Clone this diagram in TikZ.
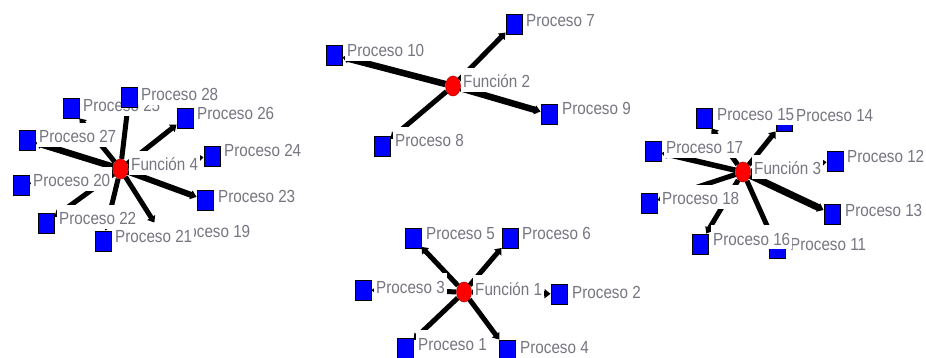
\documentclass[tikz,border=0pt]{standalone}
\usepackage{fontspec}
\newfontfamily\lblfont[FakeStretch=0.87]{Liberation Sans}
\usetikzlibrary{shapes.geometric,arrows.meta}
\definecolor{lblgray}{RGB}{118,118,130}
\pgfdeclarelayer{bg}
\pgfsetlayers{bg,main}
\begin{document}
\begin{tikzpicture}[x=1pt,y=-1pt,
  fn/.style={ellipse,fill=red,draw=red!70!black,line width=0.5pt,minimum width=15pt,minimum height=20pt,inner sep=0pt},
  pr/.style={rectangle,fill=blue,draw=black,line width=0.9pt,minimum width=16pt,minimum height=20pt,inner sep=0pt},
  lbl/.style={anchor=base west,fill=white,inner xsep=2pt,inner ysep=0pt,text height=20pt,text depth=4pt,font=\lblfont\fontsize{17.5}{18}\selectfont,text=lblgray},
  arc/.style={line width=#1,-{Triangle[length=6pt,width=9pt]}},
  arc/.default=5pt]
\useasboundingbox (0,0) rectangle (926,358);
% function vertices
\node[fn] (f1) at (464,292) {};
\node[fn] (f2) at (453,86) {};
\node[fn] (f3) at (743,172) {};
\node[fn] (f4) at (120.5,169) {};
\node[lbl] (lf1) at (473,295) {Función 1};
\node[lbl] (lf2) at (461,88) {Función 2};
\node[lbl] (lf3) at (752,175) {Función 3};
\node[lbl] (lf4) at (129,171) {Función 4};
% process vertices
\foreach \n/\x/\y/\lx/\ly in {
  1/405/348/418/350, 2/559/294/572/298, 3/363/290/376/293, 4/507/350/520/353,
  5/413/238/426/240, 6/510/238/522/240, 7/514/24/526/27, 8/382/146/395/147,
  9/549/114/562/115, 10/334/55/347/57, 11/777/248/790/250, 12/835/161/847/163,
  13/832/214/845/217, 14/784/121/796/122, 15/704/118/717/121, 16/700/244/713/245,
  17/653/151/666/154, 18/649/203/662/205, 19/161/233/173/237, 20/21/185/33/187,
  21/103/241/115/243, 22/46/223/59/225, 23/205/200/218/203, 24/212/156/224/157,
  25/71/108/83/112, 26/185/118/197/120, 27/27/140/39/143, 28/129/97/141/101}{
  \node[pr] (p\n) at (\x,\y) {};
  \node[lbl] (l\n) at (\lx-2,\ly) {Proceso \n};
}
% arcs
\begin{pgfonlayer}{bg}
\foreach \t/\w in {1/5,2/5,3/5,4/5,5/5,6/5}
  \draw[arc=\w pt] (f1) -- (p\t);
\foreach \t/\w in {7/5,8/5,9/6.5,10/6.5}
  \draw[arc=\w pt] (f2) -- (p\t);
\foreach \t/\w in {11/5,12/5,13/7,14/5,15/5,16/5,17/5.5,18/5}
  \draw[arc=\w pt] (f3) -- (p\t);
\foreach \t/\w in {19/5,20/5,21/5,22/5,23/6,24/5,25/5,26/5,27/6.5,28/5}
  \draw[arc=\w pt] (f4) -- (p\t);
\end{pgfonlayer}
\end{tikzpicture}
\end{document}
